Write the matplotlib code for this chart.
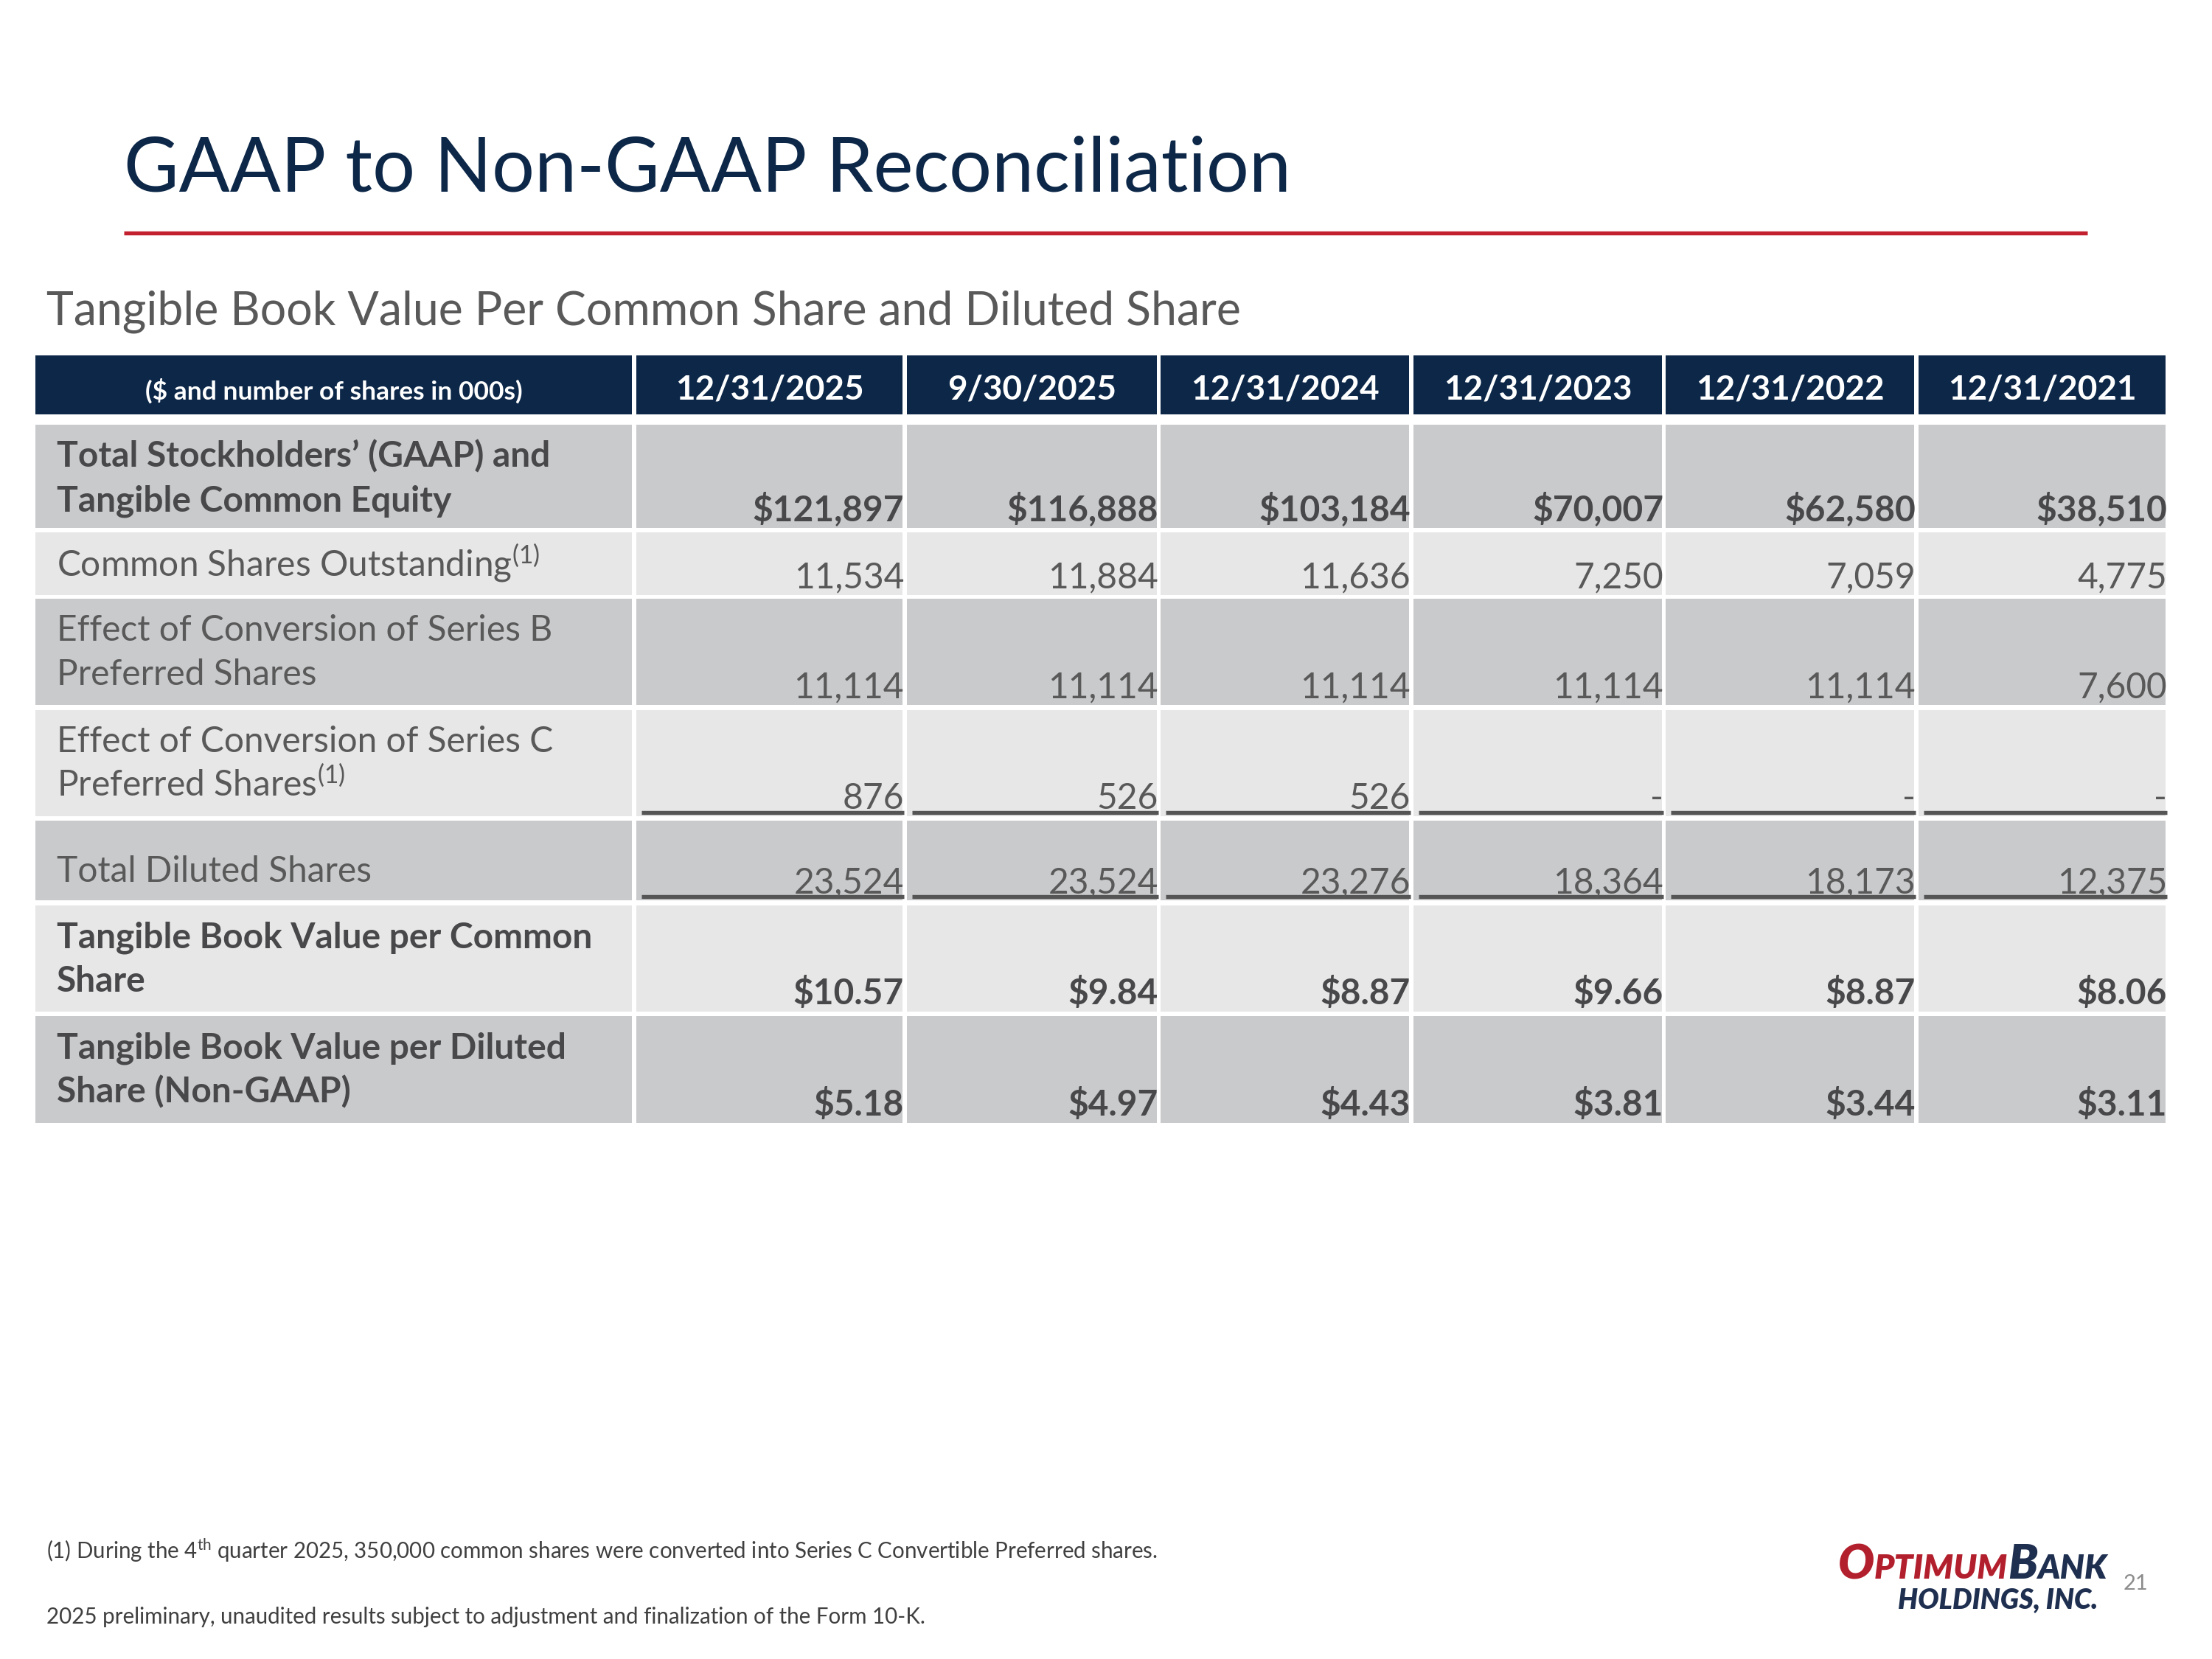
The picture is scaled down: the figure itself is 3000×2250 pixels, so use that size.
import matplotlib
matplotlib.use('Agg')
import matplotlib.pyplot as plt
from matplotlib.patches import Rectangle

plt.rcParams['font.family'] = ['Lato', 'DejaVu Sans']
plt.rcParams['mathtext.fontset'] = 'custom'
plt.rcParams['mathtext.rm'] = 'Lato'
plt.rcParams['mathtext.default'] = 'regular'

# table data ($ and number of shares in 000s)
periods = ['12/31/2025', '9/30/2025', '12/31/2024', '12/31/2023', '12/31/2022', '12/31/2021']
total_equity = [121897, 116888, 103184, 70007, 62580, 38510]
common_shares = [11534, 11884, 11636, 7250, 7059, 4775]
series_b_shares = [11114, 11114, 11114, 11114, 11114, 7600]
series_c_shares = [876, 526, 526, None, None, None]
diluted_shares = [23524, 23524, 23276, 18364, 18173, 12375]
tbv_per_common = [10.57, 9.84, 8.87, 9.66, 8.87, 8.06]
tbv_per_diluted = [5.18, 4.97, 4.43, 3.81, 3.44, 3.11]

row_labels = [
    ['Total Stockholders\u2019 (GAAP) and', 'Tangible Common Equity'],
    ['Common Shares Outstanding$^{(1)}$'],
    ['Effect of Conversion of Series B', 'Preferred Shares'],
    ['Effect of Conversion of Series C', 'Preferred Shares$^{(1)}$'],
    ['Total Diluted Shares'],
    ['Tangible Book Value per Common', 'Share'],
    ['Tangible Book Value per Diluted', 'Share (Non-GAAP)'],
]
row_bold = [True, False, False, False, False, True, True]


def fmt_dollar(v):
    return '${:,}'.format(v)


def fmt_num(v):
    return '-' if v is None else '{:,}'.format(v)


def fmt_price(v):
    return '${:.2f}'.format(v)


row_values = [
    [fmt_dollar(v) for v in total_equity],
    [fmt_num(v) for v in common_shares],
    [fmt_num(v) for v in series_b_shares],
    [fmt_num(v) for v in series_c_shares],
    [fmt_num(v) for v in diluted_shares],
    [fmt_price(v) for v in tbv_per_common],
    [fmt_price(v) for v in tbv_per_diluted],
]
underlined = [False, False, False, True, True, False, False]

# colours
navy = '#0c2748'
red = '#c3202f'
dark_row = '#c9cacc'
light_row = '#e7e7e8'
gray_text = '#595959'
bold_text = '#48484a'

fig = plt.figure(figsize=(10, 7.5), dpi=300)
ax = fig.add_axes([0, 0, 1, 1])
ax.set_xlim(0, 3000)
ax.set_ylim(2250, 0)
ax.axis('off')

# title and rule
ax.text(168, 260, 'GAAP to Non-GAAP Reconciliation', fontsize=24.5, color=navy,
        va='baseline', ha='left')
ax.plot([168, 2831], [316, 316], color=red, lw=1.3, solid_capstyle='butt')
ax.text(63, 440, 'Tangible Book Value Per Common Share and Diluted Share',
        fontsize=15, color=gray_text, va='baseline', ha='left')

# table geometry (pixels)
label_x0, label_x1 = 48, 857
col_left = [863, 1230, 1574, 1917, 2259, 2602]
col_right = [1224, 1569, 1911, 2254, 2596, 2937]
head_top, head_bot = 482, 562
row_top = [576, 722, 812, 963, 1113, 1228, 1378]
row_bot = [716, 807, 956, 1107, 1221, 1372, 1523]

# header
ax.add_patch(Rectangle((label_x0, head_top), label_x1 - label_x0, head_bot - head_top,
                       color=navy, lw=0))
ax.text((label_x0 + label_x1) / 2, (head_top + head_bot) / 2 + 8,
        '($ and number of shares in 000s)', fontsize=8.5, fontweight='bold',
        color='white', ha='center', va='center')
for j, p in enumerate(periods):
    ax.add_patch(Rectangle((col_left[j], head_top), col_right[j] - col_left[j],
                           head_bot - head_top, color=navy, lw=0))
    ax.text((col_left[j] + col_right[j]) / 2, (head_top + head_bot) / 2 + 6, p,
            fontsize=11, fontweight='bold', color='white', ha='center', va='center')

# body rows
for i in range(len(row_labels)):
    fill = dark_row if i % 2 == 0 else light_row
    h = row_bot[i] - row_top[i]
    ax.add_patch(Rectangle((label_x0, row_top[i]), label_x1 - label_x0, h, color=fill, lw=0))
    weight = 'bold' if row_bold[i] else 'normal'
    tcolor = bold_text if row_bold[i] else gray_text
    lines = row_labels[i]
    if len(lines) == 2:
        offsets = [57, 117]
    elif i == 4:
        offsets = [83]
    else:
        offsets = [60]
    for line, off in zip(lines, offsets):
        ax.text(77, row_top[i] + off, line, fontsize=11.5, fontweight=weight,
                color=tcolor, ha='left', va='baseline')
    for j in range(len(periods)):
        ax.add_patch(Rectangle((col_left[j], row_top[i]), col_right[j] - col_left[j], h,
                               color=fill, lw=0))
        ax.text(col_right[j] + 2, row_bot[i] - 10, row_values[i][j], fontsize=11.5,
                fontweight=weight, color=tcolor, ha='right', va='baseline')
        if underlined[i]:
            ax.plot([col_left[j] + 7, col_right[j] + 2], [row_bot[i] - 5, row_bot[i] - 5],
                    color='#555555', lw=1.3, solid_capstyle='butt')

# footnotes
ax.text(63, 2114, '(1) During the 4$^{th}$ quarter 2025, 350,000 common shares were converted '
        'into Series C Convertible Preferred shares.', fontsize=7.1, color='#404040',
        ha='left', va='baseline')
ax.text(63, 2202, '2025 preliminary, unaudited results subject to adjustment and '
        'finalization of the Form 10-K.', fontsize=7.1, color='#404040',
        ha='left', va='baseline')

# logo text
renderer = fig.canvas.get_renderer()


def chain_text(x, y, parts):
    for s, size, color in parts:
        t = ax.text(x, y, s, fontsize=size, color=color, fontweight='heavy',
                    fontstyle='italic', ha='left', va='baseline')
        bb = t.get_window_extent(renderer)
        x = ax.transData.inverted().transform((bb.x1, bb.y0))[0]


logo_red = '#b3202d'
logo_navy = '#1e2f50'
chain_text(2493, 2141, [('O', 15.5, logo_red), ('PTIMUM', 11, logo_red),
                        ('B', 15.5, logo_navy), ('ANK', 11, logo_navy)])
ax.text(2845, 2181, 'HOLDINGS, INC.', fontsize=9, color=logo_navy, fontweight='heavy',
        fontstyle='italic', ha='right', va='baseline')
ax.text(2880, 2156, '21', fontsize=7, color='#8c8c8c', ha='left', va='baseline')

fig.savefig('out.png', dpi=300)
